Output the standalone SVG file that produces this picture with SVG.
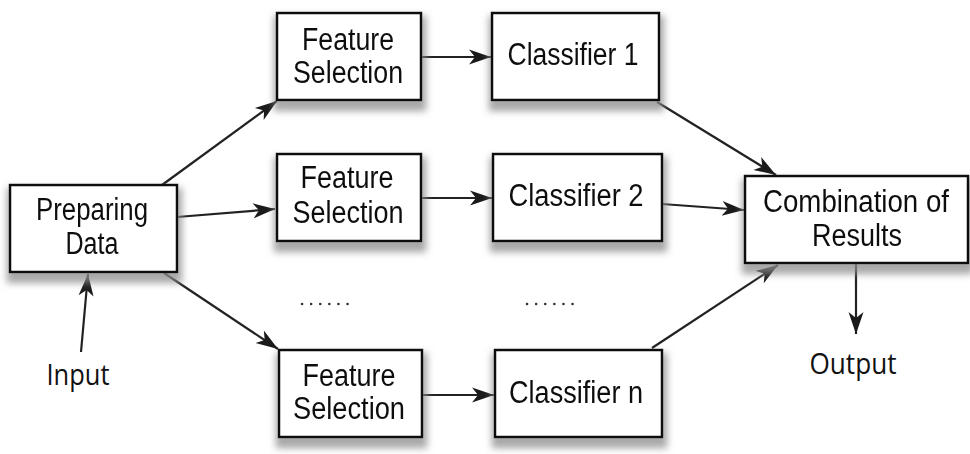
<svg xmlns="http://www.w3.org/2000/svg" width="970" height="454" viewBox="0 0 970 454">
  <defs>
    <filter id="shade" x="-10%" y="-15%" width="125%" height="150%">
      <feMorphology in="SourceAlpha" operator="dilate" radius="3" result="d"/>
      <feGaussianBlur in="d" stdDeviation="3.5" result="b"/>
      <feOffset in="b" dx="1" dy="7" result="o"/>
      <feFlood flood-color="#8c8c8c" flood-opacity="0.75"/>
      <feComposite in2="o" operator="in" result="s"/>
      <feMerge>
        <feMergeNode in="s"/>
        <feMergeNode in="SourceGraphic"/>
      </feMerge>
    </filter>
    <marker id="arrow" markerUnits="userSpaceOnUse" markerWidth="24" markerHeight="18" refX="22" refY="9" orient="auto">
      <path d="M0,1.5 L22,9 L0,16.5 L6,9 Z" fill="#1a1a1a"/>
    </marker>
  </defs>
  <style>
    .box { fill: #ffffff; stroke: #111111; stroke-width: 2.5; }
    .lbl { font-family: "Liberation Sans", Arial, sans-serif; font-size: 31px; fill: #111111; text-anchor: middle; }
    .io { font-family: "Open Sans", "DejaVu Sans", sans-serif; font-size: 29px; fill: #111111; text-anchor: middle; }
    .edge { stroke: #222222; stroke-width: 2.2; fill: none; marker-end: url(#arrow); }
    .dots { stroke: #333333; stroke-width: 2.5; stroke-linecap: round; stroke-dasharray: 0.1 9; fill: none; }
  </style>
  <rect width="970" height="454" fill="#ffffff"/>

  <g id="connectors">
    <path class="edge" d="M81,352 L88,274"/>
    <path class="edge" d="M162,185 L277,101"/>
    <path class="edge" d="M177,217 L275,209"/>
    <path class="edge" d="M164,273 L278,349"/>
    <path class="edge" d="M421,57 L491,57"/>
    <path class="edge" d="M421,198 L492,198"/>
    <path class="edge" d="M422,395 L494,395"/>
    <path class="edge" d="M657,102 L776,175"/>
    <path class="edge" d="M662,204 L744,210"/>
    <path class="edge" d="M652,348 L778,265"/>
    <path class="edge" d="M856,264 L856,334"/>
  </g>

  <g id="preparing-data" filter="url(#shade)">
    <rect class="box" x="10" y="185" width="167" height="87"/>
    <text class="lbl" x="92" y="220" font-size="29" textLength="112" lengthAdjust="spacingAndGlyphs">Preparing</text>
    <text class="lbl" x="92" y="254" font-size="29" textLength="53" lengthAdjust="spacingAndGlyphs">Data</text>
  </g>

  <g id="feature-selection-1" filter="url(#shade)">
    <rect class="box" x="277" y="13" width="144" height="87"/>
    <text class="lbl" x="348" y="50" textLength="92" lengthAdjust="spacingAndGlyphs">Feature</text>
    <text class="lbl" x="348" y="83" textLength="110" lengthAdjust="spacingAndGlyphs">Selection</text>
  </g>

  <g id="feature-selection-2" filter="url(#shade)">
    <rect class="box" x="277" y="154" width="144" height="87"/>
    <text class="lbl" x="347" y="188" textLength="93" lengthAdjust="spacingAndGlyphs">Feature</text>
    <text class="lbl" x="348" y="223" textLength="111" lengthAdjust="spacingAndGlyphs">Selection</text>
  </g>

  <g id="feature-selection-n" filter="url(#shade)">
    <rect class="box" x="279" y="350" width="143" height="87"/>
    <text class="lbl" x="349" y="386" textLength="93" lengthAdjust="spacingAndGlyphs">Feature</text>
    <text class="lbl" x="349" y="419" textLength="112" lengthAdjust="spacingAndGlyphs">Selection</text>
  </g>

  <g id="classifier-1" filter="url(#shade)">
    <rect class="box" x="492" y="13" width="167" height="87"/>
    <text class="lbl" x="573" y="65" textLength="131" lengthAdjust="spacingAndGlyphs">Classifier 1</text>
  </g>

  <g id="classifier-2" filter="url(#shade)">
    <rect class="box" x="493" y="154" width="169" height="87"/>
    <text class="lbl" x="576" y="206" textLength="135" lengthAdjust="spacingAndGlyphs">Classifier 2</text>
  </g>

  <g id="classifier-n" filter="url(#shade)">
    <rect class="box" x="495" y="350" width="167" height="87"/>
    <text class="lbl" x="576" y="403" textLength="134" lengthAdjust="spacingAndGlyphs">Classifier n</text>
  </g>

  <g id="combination" filter="url(#shade)">
    <rect class="box" x="745" y="176" width="223" height="87"/>
    <text class="lbl" x="856" y="212" textLength="186" lengthAdjust="spacingAndGlyphs">Combination of</text>
    <text class="lbl" x="857" y="246" textLength="90" lengthAdjust="spacingAndGlyphs">Results</text>
  </g>

  <g id="input">
    <text class="io" x="78" y="385" textLength="63" lengthAdjust="spacingAndGlyphs">Input</text>
  </g>

  <g id="output">
    <text class="io" x="853" y="374" font-size="30" textLength="87" lengthAdjust="spacingAndGlyphs">Output</text>
  </g>

  <g id="ellipses">
    <path class="dots" d="M302,304 L348,304"/>
    <path class="dots" d="M527,304 L573,304"/>
  </g>
</svg>
